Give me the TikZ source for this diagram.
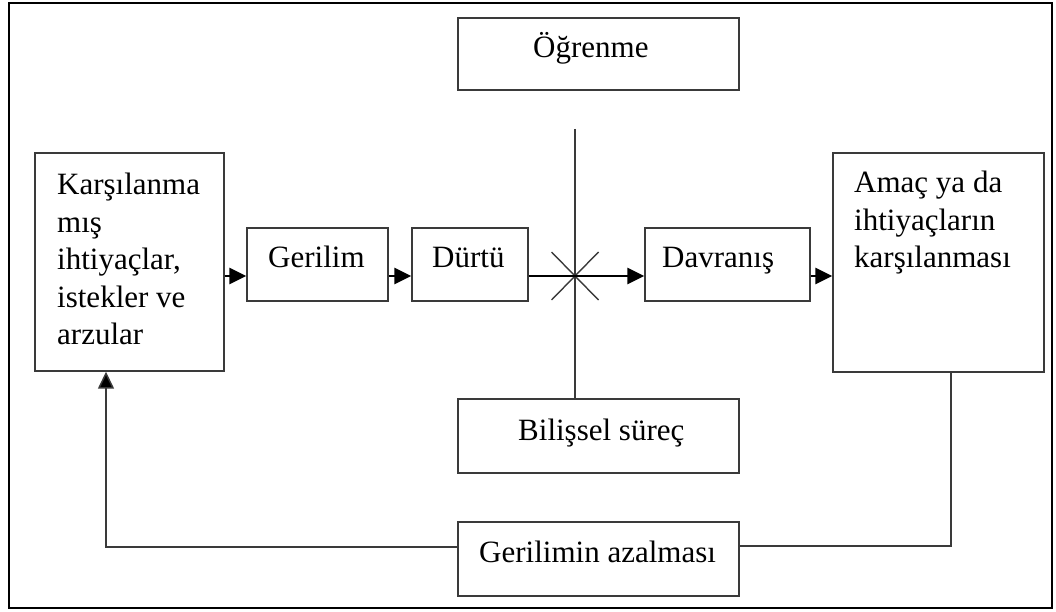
\documentclass[tikz,border=0pt]{standalone}
\usepackage{fontspec}
\setmainfont{Liberation Serif}
\usetikzlibrary{arrows.meta,calc}
\begin{document}
\begin{tikzpicture}[x=1pt,y=-1pt,
  box/.style={draw=boxgray, line width=1.4pt, rectangle, inner sep=0pt, fill=white},
  txt/.style={inner sep=0pt, anchor=base west, font=\fontsize{31}{37.4}\selectfont},
  arr/.style={line width=2.6pt, -{Triangle[length=17pt,width=16pt]}},
  thin/.style={draw=boxgray, line width=1.4pt},
  fb/.style={draw=boxgray, line width=1.5pt, -{Triangle[length=17pt,width=16pt,fill=black]}}
]
\definecolor{boxgray}{HTML}{3A3A3A}
\useasboundingbox (0,0) rectangle (1056,612);
\draw[line width=2.6pt] (9,3) rectangle (1052,608);

% boxes
\node[box, minimum width=189pt, minimum height=218pt] (karsi) at (129.5,262) {};
\node[box, minimum width=141pt, minimum height=73pt] (ger) at (317.5,264.5) {};
\node[box, minimum width=116pt, minimum height=73pt] (durtu) at (470,264.5) {};
\node[box, minimum width=165pt, minimum height=73pt] (davr) at (727.5,264.5) {};
\node[box, minimum width=211pt, minimum height=219pt] (amac) at (938.5,262.5) {};
\node[box, minimum width=281pt, minimum height=72pt] (ogr) at (598.5,54) {};
\node[box, minimum width=281pt, minimum height=74pt] (bil) at (598.5,436) {};
\node[box, minimum width=281pt, minimum height=74pt] (gaz) at (598.5,559) {};

\coordinate (mid) at (0,276);
\coordinate (cross) at (575,276);
\coordinate (vtop) at (575,129);
\coordinate (fbl) at (106,547);
\coordinate (fbr) at (951,546);

% texts
\node[txt] (tk) at (57,195) {\begin{tabular}[t]{@{}l@{}}Karşılanma\\ mış\\ ihtiyaçlar,\\ istekler ve\\ arzular\end{tabular}};
\node[txt] (ta) at (854,193) {\begin{tabular}[t]{@{}l@{}}Amaç ya da\\ ihtiyaçların\\ karşılanması\end{tabular}};
\node[txt] (tg) at (268,267) {Gerilim};
\node[txt] (td) at (432,267) {Dürtü};
\node[txt] (tdv) at (662,267) {Davranış};
\node[txt] (to) at (533,58) {Öğrenme};
\node[txt] (tb) at (518,440) {Bilişsel süreç};
\node[txt] (tga) at (479,562) {Gerilimin azalması};

% cross and vertical line
\draw[thin] (vtop) -- (cross |- bil.north);
\draw[thin] ($(cross)+(-23.5,-24)$) -- ($(cross)+(23.5,24)$);
\draw[thin] ($(cross)+(-23.5,24)$) -- ($(cross)+(23.5,-24)$);

% main arrows
\draw[arr] (karsi.east |- mid) -- (ger.west |- mid);
\draw[arr] (ger.east |- mid) -- (durtu.west |- mid);
\draw[arr] (durtu.east |- mid) -- (davr.west |- mid);
\draw[arr] (davr.east |- mid) -- (amac.west |- mid);

% feedback
\draw[fb] (gaz.west |- fbl) -- (fbl) -- (karsi.south -| fbl);
\draw[thin] (amac.south -| fbr) -- (fbr) -- (gaz.east |- fbr);
\end{tikzpicture}
\end{document}
